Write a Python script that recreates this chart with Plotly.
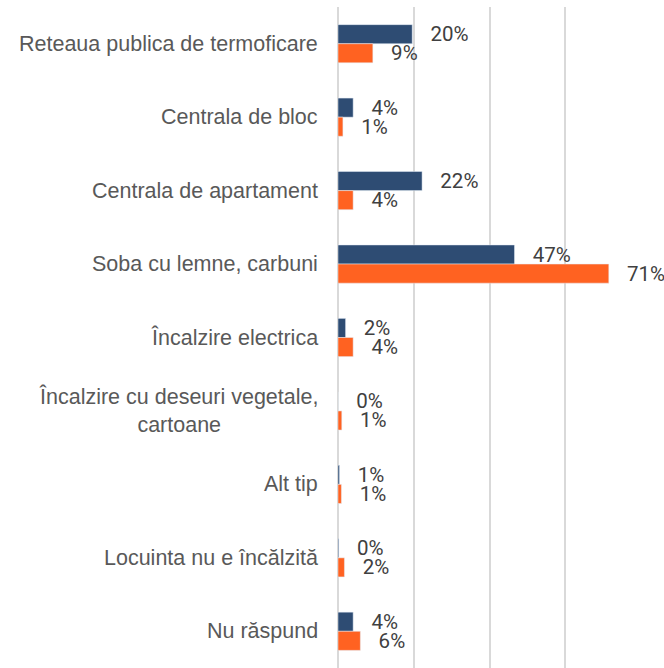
import plotly.graph_objects as go

categories = [
    "Reteaua publica de termoficare",
    "Centrala de bloc",
    "Centrala de apartament",
    "Soba cu lemne, carbuni",
    "Încalzire electrica",
    "Încalzire cu deseuri vegetale,<br>cartoane",
    "Alt tip",
    "Locuinta nu e încălzită",
    "Nu răspund",
]
series_a = [19.6, 4.0, 22.2, 46.6, 2.0, 0.0, 0.4, 0.2, 4.0]
series_b = [9.2, 1.3, 4.0, 71.5, 4.0, 1.0, 0.9, 1.7, 5.9]
labels_a = ["20%", "4%", "22%", "47%", "2%", "0%", "1%", "0%", "4%"]
labels_b = ["9%", "1%", "4%", "71%", "4%", "1%", "1%", "2%", "6%"]

blue = "#2E4C73"
orange = "#FF6221"
pad = "\u00a0" * 3
label_font = dict(family="Roboto", size=20.5, color="#404040")

fig = go.Figure()
fig.add_trace(go.Bar(
    y=categories, x=series_a, orientation="h", marker_color=blue,
    text=[pad + t for t in labels_a], textposition="outside",
    textfont=label_font, constraintext="none", cliponaxis=False,
    showlegend=False,
))
fig.add_trace(go.Bar(
    y=categories, x=series_b, orientation="h", marker_color=orange,
    text=[pad + t for t in labels_b], textposition="outside",
    textfont=label_font, constraintext="none", cliponaxis=False,
    showlegend=False,
))

for c in categories:
    fig.add_annotation(
        x=0, xref="paper", y=c, yref="y", xanchor="right", yanchor="middle",
        xshift=-18, text=c, showarrow=False, align="center",
        font=dict(family="Liberation Sans", size=21.5, color="#595959"),
    )

fig.update_layout(
    width=664, height=668,
    margin=dict(l=338, r=23, t=7, b=0),
    paper_bgcolor="white", plot_bgcolor="white",
    barmode="group", bargap=0.48, bargroupgap=0,
    xaxis=dict(range=[0, 80], dtick=20, showgrid=True, gridcolor="#D9D9D9",
               gridwidth=2, showticklabels=False, zeroline=True,
               zerolinecolor="#D9D9D9", zerolinewidth=2, showline=False),
    yaxis=dict(autorange="reversed", showticklabels=False, showgrid=False,
               zeroline=False, showline=False),
)

fig.write_html("out.html", config={"displayModeBar": False},
               post_script="document.body.style.margin='0';")
